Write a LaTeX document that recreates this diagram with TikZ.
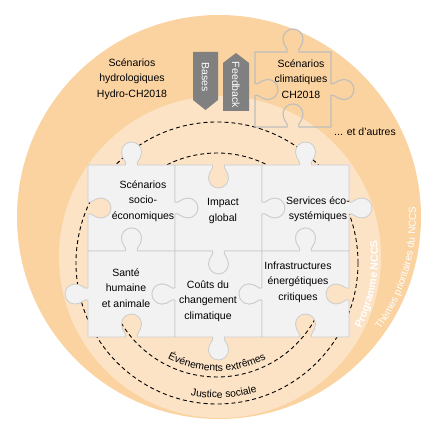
\documentclass[tikz,border=0pt]{standalone}
\usepackage{fontspec}
\setmainfont{Liberation Sans}
\usetikzlibrary{decorations.text}
\definecolor{RingOrange}{RGB}{250,211,160}
\definecolor{CoreOrange}{RGB}{252,227,197}
\definecolor{PieceGrey}{RGB}{242,242,242}
\definecolor{SeamGrey}{RGB}{205,205,205}
\definecolor{OutlineGrey}{RGB}{190,190,190}
\definecolor{ArrowGrey}{RGB}{128,128,128}

\tikzset{
  % one edge bump: mid x, mid y, angle of the edge, +1 out / -1 in / 0 flat
  knob/.style n args={4}{insert path={
    -- ([shift={(#1,#2)},rotate=#3]-6,0)
    .. controls ([shift={(#1,#2)},rotate=#3]-4,{-3*#4}) and ([shift={(#1,#2)},rotate=#3]-10,{-6*#4})
    .. ([shift={(#1,#2)},rotate=#3]-10,{-13*#4})
    .. controls ([shift={(#1,#2)},rotate=#3]-10,{-18.5*#4}) and ([shift={(#1,#2)},rotate=#3]-5.5,{-23*#4})
    .. ([shift={(#1,#2)},rotate=#3]0,{-23*#4})
    .. controls ([shift={(#1,#2)},rotate=#3]5.5,{-23*#4}) and ([shift={(#1,#2)},rotate=#3]10,{-18.5*#4})
    .. ([shift={(#1,#2)},rotate=#3]10,{-13*#4})
    .. controls ([shift={(#1,#2)},rotate=#3]10,{-6*#4}) and ([shift={(#1,#2)},rotate=#3]4,{-3*#4})
    .. ([shift={(#1,#2)},rotate=#3]6,0)}},
  % x, y, width, height, top, right, bottom, left
  piece/.style n args={8}{insert path={
    (#1,#2) [knob={#1+#3/2}{#2}{0}{#5}]
    -- (#1+#3,#2) [knob={#1+#3}{#2+#4/2}{-90}{#6}]
    -- (#1+#3,#2+#4) [knob={#1+#3/2}{#2+#4}{180}{#7}]
    -- (#1,#2+#4) [knob={#1}{#2+#4/2}{90}{#8}] -- cycle}},
  tile/.style={fill=PieceGrey, draw=SeamGrey, line width=0.8pt},
  lbl/.style={font=\fontsize{10.5}{15.5}\selectfont, align=center, inner sep=0pt},
  dashring/.style={line width=0.9pt, dash pattern=on 4pt off 3pt},
}

\begin{document}
\begin{tikzpicture}[x=1pt, y=-1pt]
  \useasboundingbox (0,0) rectangle (440,433);
  % rings
  \fill[RingOrange] (219,217) circle[radius=202];
  \fill[CoreOrange] (220,257) circle[radius=161];
  \draw[dashring] (217,263) circle[radius=141];
  \draw[dashring] (217,265) circle[radius=112];

  % puzzle
  \path[tile] [piece={88}{165}{87}{86}{1}{1}{-1}{-1}];
  \path[tile] [piece={175}{165}{87}{86}{-1}{1}{1}{-1}];
  \path[tile] [piece={262}{165}{87}{86}{1}{1}{-1}{-1}];
  \path[tile] [piece={88}{251}{87}{86}{1}{-1}{-1}{1}];
  \path[tile] [piece={175}{251}{87}{86}{-1}{-1}{1}{1}];
  \path[tile] [piece={262}{251}{87}{86}{1}{-1}{-1}{1}];
  \draw[OutlineGrey, line width=1.1pt] [piece={255}{52}{76}{75}{1}{1}{-1}{-1}];

  % arrows
  \fill[ArrowGrey] (193,52) -- (218,52) -- (218,100) -- (205.5,110) -- (193,100) -- cycle;
  \fill[ArrowGrey] (223,63) -- (236,53) -- (249,63) -- (249,111) -- (223,111) -- cycle;
  \node[lbl, white, rotate=-90] (bases) at (205.5,77) {Bases};
  \node[lbl, white, rotate=-90] (feedback) at (236,85) {Feedback};

  \node[lbl] (hydro) at (132,79) {Scénarios\\hydrologiques\\Hydro-CH2018};
  \node[lbl] (climat) at (301,79) {Scénarios\\climatiques\\CH2018};
  \node[lbl] (autres) at (365,132) {... et d'autres};

  \node[lbl] (socio) at (143,201) {Scénarios\\socio-\\économiques};
  \node[lbl] (impact) at (223,211) {Impact\\global};
  \node[lbl] (services) at (318,209) {Services éco-\\systémiques};
  \node[lbl] (sante) at (126,288) {Santé\\humaine\\et animale};
  \node[lbl] (couts) at (208,301) {Coûts du\\changement\\climatique};
  \node[lbl] (infra) at (298,282) {Infrastructures\\énergétiques\\critiques};

  % text on the rings
  \path[decorate, decoration={text along path, text align=center,
      text={|\fontsize{10.3}{12}\selectfont|Événements extrêmes}}]
    ([shift={(217,265)}]150:106) arc[start angle=150, end angle=30, radius=106];
  \path[decorate, decoration={text along path, text align=center,
      text={|\fontsize{10.3}{12}\selectfont|Justice sociale}}]
    ([shift={(217,263)}]147:135) arc[start angle=147, end angle=27, radius=135];
  \path[decorate, decoration={text along path, text align=center,
      text={|\color{white}\bfseries\fontsize{10.5}{12}\selectfont|Programme NCCS}}]
    ([shift={(220,257)}]40:158) arc[start angle=40, end angle=-19, radius=158];
  \path[decorate, decoration={text along path, text align=center,
      text={|\color{white}\fontsize{10}{12}\selectfont|Thèmes prioritaires du NCCS}}]
    ([shift={(219,217)}]46:197) arc[start angle=46, end angle=-14, radius=197];
\end{tikzpicture}
\end{document}
